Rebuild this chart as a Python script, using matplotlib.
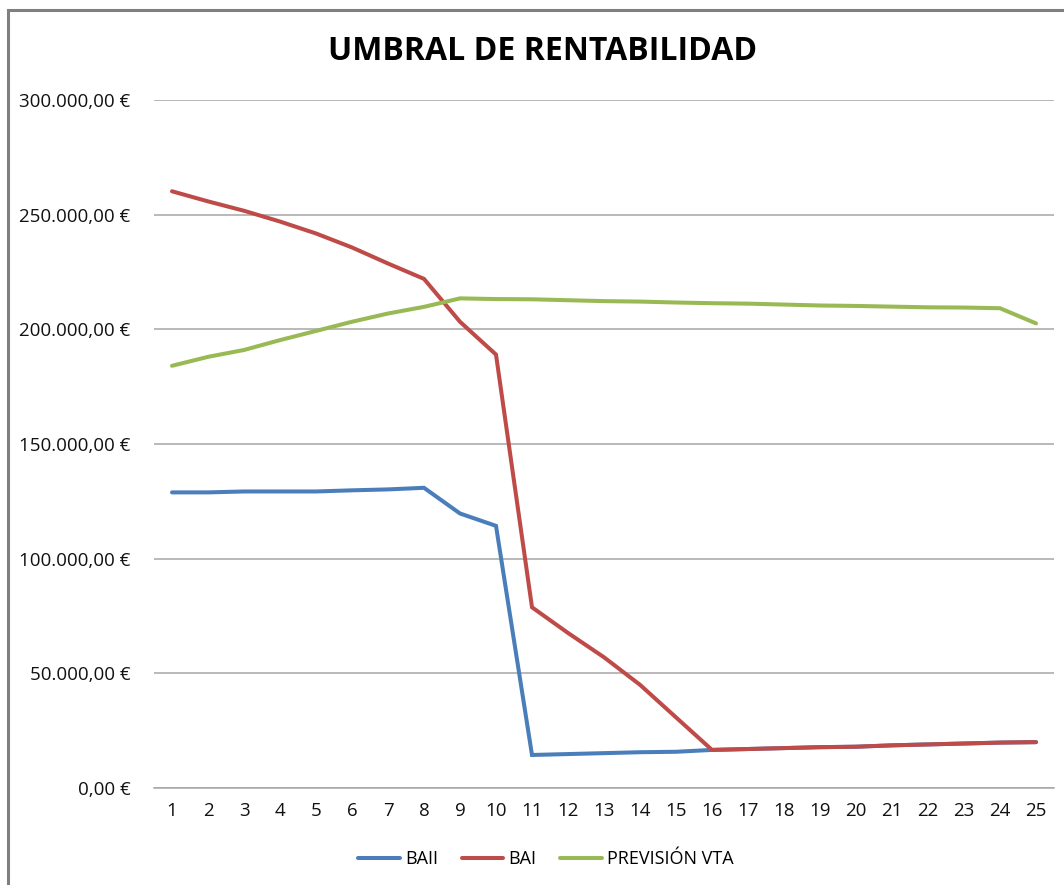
import matplotlib
matplotlib.use("Agg")
import matplotlib.pyplot as plt
from matplotlib.ticker import FuncFormatter
from matplotlib.patches import Rectangle

periodos = list(range(1, 26))

baii = [128900, 128900, 129300, 129300, 129300, 129800, 130200, 130900, 119700, 114300,
        14400, 14800, 15200, 15600, 15800, 16600, 17000, 17400, 17800, 18000,
        18600, 19000, 19400, 19800, 20000]

bai = [260200, 255800, 251700, 247000, 241800, 235700, 228700, 222000, 203300, 189000,
       78800, 67600, 57000, 45000, 30800, 16600, 17000, 17400, 17800, 18000,
       18600, 19000, 19400, 19800, 20000]

prevision_vta = [184100, 188000, 191000, 195300, 199300, 203300, 206900, 209800, 213500, 213200,
                 213100, 212700, 212300, 212100, 211700, 211400, 211200, 210800, 210400, 210200,
                 209900, 209600, 209500, 209200, 202600]

series = [("BAII", baii, "#4A7EBB"),
          ("BAI", bai, "#BE4B48"),
          ("PREVISIÓN VTA", prevision_vta, "#98B954")]

plt.rcParams['font.family'] = ['Open Sans', 'DejaVu Sans']

fig = plt.figure(figsize=(10.64, 8.85), dpi=100)
ax = fig.add_axes([154 / 1064, 1 - 788 / 885, 900 / 1064, 688 / 885])

for nombre, valores, color in series:
    ax.plot(periodos, valores, color=color, linewidth=2.9, label=nombre,
            solid_joinstyle="miter", solid_capstyle="round")

def euros(v, pos):
    s = f"{v:,.2f}"
    s = s.replace(",", "X").replace(".", ",").replace("X", ".")
    return s + " €"

ax.set_xlim(0.5, 25.5)
ax.set_ylim(0, 300000)
ax.set_yticks(range(0, 300001, 50000))
ax.set_xticks(periodos)
ax.yaxis.set_major_formatter(FuncFormatter(euros))
ax.grid(axis="y", color="#A6A6A6", linewidth=1.1)
ax.set_axisbelow(True)
for lado in ["left", "right", "top"]:
    ax.spines[lado].set_visible(False)
ax.spines["bottom"].set_color("#A6A6A6")
ax.spines["bottom"].set_linewidth(1.1)
ax.tick_params(axis="both", length=0, labelsize=13.5, colors="#111111")
ax.tick_params(axis="y", pad=17)
ax.tick_params(axis="x", pad=10)

fig.text(543 / 1064, 1 - 52 / 885, "UMBRAL DE RENTABILIDAD", ha="center", va="center",
         fontsize=23, fontweight="bold", color="black")

fig.legend(loc="center", bbox_to_anchor=(546 / 1064, 1 - 859 / 885), ncol=3, frameon=False,
           fontsize=13, handlelength=2.3, columnspacing=1.3, handletextpad=0.3)

# marco del grafico
fig.patches.append(Rectangle((8 / 1064, -0.1), 1.2, 1.1 - 10 / 885, transform=fig.transFigure,
                             fill=False, edgecolor="#7F7F7F", linewidth=2.2))

fig.savefig("out.png", dpi=100)
